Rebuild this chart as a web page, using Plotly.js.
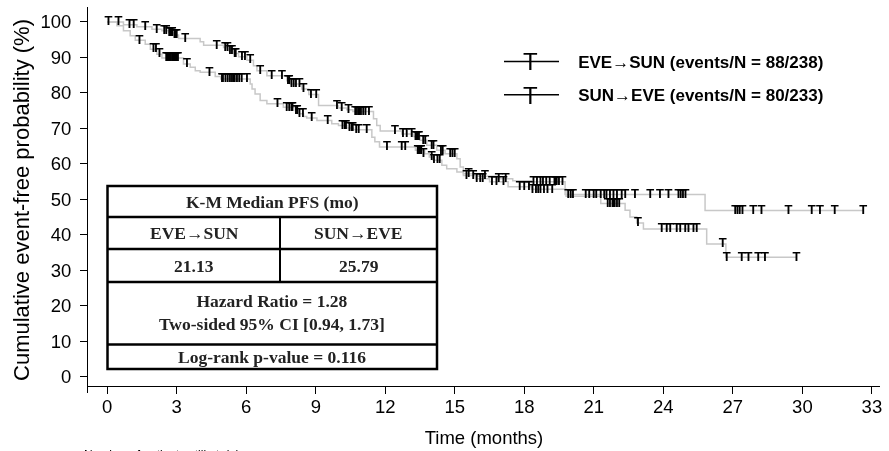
<!DOCTYPE html>
<html><head><meta charset="utf-8">
<script src="https://cdn.plot.ly/plotly-3.0.1.min.js"></script>
<style>html,body{margin:0;padding:0;background:#fff;}#chart{width:889px;height:451px;filter:grayscale(1);}</style>
</head><body><div id="chart"></div>
<script>
// ---------- data ----------
const xTicks = [0, 3, 6, 9, 12, 15, 18, 21, 24, 27, 30, 33];
const yTicks = [0, 10, 20, 30, 40, 50, 60, 70, 80, 90, 100];

const seriesNames = ['EVE\u2192SUN (events/N = 88/238)', 'SUN\u2192EVE (events/N = 80/233)'];

// EVE->SUN Kaplan-Meier step curve (months, %)
const eveSunTime = [0, 0.42, 0.70, 0.99, 1.21, 1.64, 1.86, 2.14, 2.36, 3.29, 3.58, 3.80, 4.01, 4.66, 4.90, 6.17, 6.25, 6.38, 6.60, 6.89, 7.60, 8.11, 8.25, 8.47, 8.61, 9.05, 9.69, 9.98, 10.34, 10.63, 11.42, 11.55, 11.75, 13.30, 13.70, 13.90, 14.07, 14.44, 14.65, 15.09, 15.37, 15.90, 16.50, 17.30, 18.30, 19.80, 21.30, 22.35, 22.56, 22.85, 23.14, 25.87, 26.70, 29.75];
const eveSunSurv = [100, 98.9, 97.5, 96.1, 94.8, 93.7, 92.3, 90.9, 89.8, 88.1, 87.2, 86.2, 85.8, 84.6, 83.9, 82.5, 81.1, 79.7, 77.8, 76.9, 75.9, 75.0, 74.1, 73.3, 72.9, 72.2, 71.3, 70.8, 70.1, 69.6, 67.5, 66.2, 64.7, 63.8, 62.8, 61.9, 61.0, 59.6, 58.6, 57.7, 56.7, 55.8, 54.9, 53.5, 52.8, 50.8, 48.8, 46.9, 45.0, 43.3, 41.6, 37.4, 33.6, 33.6];
const eveSunCensorTime = [1.39, 2.0, 2.1, 2.25, 2.55, 2.6, 2.65, 2.7, 2.75, 2.8, 2.85, 2.9, 2.95, 3.0, 3.05, 3.44, 4.41, 4.95, 5.0, 5.1, 5.2, 5.3, 5.38, 5.45, 5.5, 5.6, 5.7, 5.8, 6.03, 7.35, 7.75, 7.85, 7.95, 8.0, 8.15, 8.2, 8.3, 8.45, 8.83, 9.52, 10.15, 10.25, 10.3, 10.45, 10.55, 10.6, 10.75, 10.85, 11.2, 12.07, 12.71, 12.86, 13.4, 13.45, 13.5, 13.55, 13.65, 14.0, 14.1, 14.25, 14.35, 15.5, 15.8, 15.95, 16.1, 16.2, 16.6, 16.8, 17.1, 17.8, 18.0, 18.2, 18.35, 18.5, 18.6, 18.7, 18.85, 19.0, 19.2, 21.6, 21.7, 21.8, 21.85, 21.9, 22.0, 22.1, 22.9, 23.93, 24.15, 24.3, 24.58, 24.73, 24.94, 25.08, 25.3, 25.44, 26.56, 26.73, 27.38, 27.67, 28.1, 28.39, 29.75];
const eveSunCensorSurv = [94.8, 92.3, 92.3, 90.9, 89.8, 89.8, 89.8, 89.8, 89.8, 89.8, 89.8, 89.8, 89.8, 89.8, 89.8, 88.1, 85.8, 83.9, 83.9, 83.9, 83.9, 83.9, 83.9, 83.9, 83.9, 83.9, 83.9, 83.9, 83.9, 76.9, 75.9, 75.9, 75.9, 75.9, 75.0, 75.0, 74.1, 74.1, 72.9, 72.2, 70.8, 70.8, 70.8, 70.1, 70.1, 70.1, 69.6, 69.6, 69.6, 64.7, 64.7, 64.7, 63.8, 63.8, 63.8, 63.8, 62.8, 61.9, 61.0, 61.0, 61.0, 56.7, 56.7, 55.8, 55.8, 55.8, 54.9, 54.9, 54.9, 53.5, 53.5, 53.5, 52.8, 52.8, 52.8, 52.8, 52.8, 52.8, 52.8, 48.8, 48.8, 48.8, 48.8, 48.8, 48.8, 48.8, 43.3, 41.6, 41.6, 41.6, 41.6, 41.6, 41.6, 41.6, 41.6, 41.6, 37.4, 33.6, 33.6, 33.6, 33.6, 33.6, 33.6];

// SUN->EVE Kaplan-Meier step curve (months, %)
const sunEveTime = [0, 0.70, 1.28, 1.93, 2.36, 2.65, 2.86, 3.08, 4.01, 4.16, 5.02, 5.24, 5.45, 5.67, 6.03, 6.31, 6.46, 6.89, 7.75, 7.90, 8.40, 8.70, 9.12, 9.98, 10.34, 10.60, 11.49, 11.63, 11.78, 12.71, 13.21, 13.50, 13.79, 14.22, 14.58, 15.09, 15.23, 15.37, 16.00, 16.80, 17.50, 18.30, 19.76, 25.80, 32.65];
const sunEveSurv = [100, 99.2, 98.6, 97.9, 97.5, 97.0, 96.3, 95.3, 94.4, 93.4, 92.8, 91.9, 91.1, 90.2, 89.2, 87.6, 86.2, 84.8, 83.4, 82.5, 81.1, 79.5, 76.4, 75.7, 75.2, 74.7, 72.7, 70.8, 69.2, 68.4, 67.7, 66.6, 65.2, 63.8, 62.8, 61.4, 59.1, 57.2, 56.5, 55.8, 55.2, 54.9, 51.3, 46.8, 46.8];
const sunEveCensorTime = [0.05, 0.49, 0.96, 1.14, 1.64, 2.14, 2.46, 2.55, 2.68, 2.72, 2.76, 2.8, 2.9, 2.95, 3.0, 3.37, 4.73, 5.09, 5.19, 5.3, 5.38, 5.5, 5.55, 5.81, 5.95, 6.17, 6.6, 7.1, 7.54, 7.8, 7.85, 7.95, 8.05, 8.15, 8.3, 8.47, 8.79, 9.02, 9.91, 10.12, 10.41, 10.7, 10.78, 10.85, 10.9, 10.95, 11.05, 11.15, 11.3, 12.42, 12.76, 12.93, 13.14, 13.3, 13.35, 13.4, 13.45, 13.64, 13.72, 14.0, 14.08, 14.4, 14.48, 14.8, 14.9, 15.0, 15.6, 16.3, 16.9, 17.2, 18.4, 18.55, 18.7, 18.8, 18.95, 19.1, 19.3, 19.35, 19.4, 19.5, 19.65, 19.9, 20.0, 20.1, 20.65, 20.8, 21.0, 21.1, 21.3, 21.45, 21.55, 21.7, 21.85, 22.0, 22.2, 22.35, 22.78, 23.43, 23.86, 24.22, 24.65, 24.75, 24.85, 24.95, 27.1, 27.2, 27.3, 27.42, 27.88, 28.24, 29.4, 30.4, 30.76, 31.4, 32.63];
const sunEveCensorSurv = [100, 100, 99.2, 99.2, 98.6, 97.9, 97.5, 97.5, 97.0, 97.0, 97.0, 97.0, 96.3, 96.3, 96.3, 95.3, 93.4, 92.8, 92.8, 91.9, 91.9, 91.1, 91.1, 90.2, 90.2, 89.2, 86.2, 84.8, 84.8, 83.4, 83.4, 82.5, 82.5, 82.5, 82.5, 81.1, 79.5, 79.5, 76.4, 75.7, 75.2, 74.7, 74.7, 74.7, 74.7, 74.7, 74.7, 74.7, 74.7, 69.2, 68.4, 68.4, 68.4, 67.7, 67.7, 67.7, 67.7, 66.6, 66.6, 65.2, 65.2, 63.8, 63.8, 62.8, 62.8, 62.8, 57.2, 56.5, 55.8, 55.8, 54.9, 54.9, 54.9, 54.9, 54.9, 54.9, 54.9, 54.9, 54.9, 54.9, 54.9, 51.3, 51.3, 51.3, 51.3, 51.3, 51.3, 51.3, 51.3, 51.3, 51.3, 51.3, 51.3, 51.3, 51.3, 51.3, 51.3, 51.3, 51.3, 51.3, 51.3, 51.3, 51.3, 51.3, 46.8, 46.8, 46.8, 46.8, 46.8, 46.8, 46.8, 46.8, 46.8, 46.8, 46.8];

// summary table texts
const tableTitle = 'K-M Median PFS (mo)';
const armLabels = ['EVE\u2192SUN', 'SUN\u2192EVE'];
const medianLabels = ['21.13', '25.79'];
const hrText = 'Hazard Ratio = 1.28<br>Two-sided 95% CI [0.94, 1.73]';
const pText = 'Log-rank p-value = 0.116';

// ---------- layout helpers (pixel -> paper) ----------
const L = 88, R = 880, T = 7, B = 393;
const px = x => (x - L) / (R - L);
const py = y => (B - y) / (B - T);

const curveColor = '#c8c8c8';
const sans = 'Liberation Sans, Arial, sans-serif';
const serif = 'Liberation Serif, Times New Roman, serif';
const pad = '\u00a0\u00a0\u00a0';

function curve(t, s) {
  return {x: t, y: s, mode: 'lines', line: {shape: 'hv', color: curveColor, width: 1.5},
          showlegend: false, hoverinfo: 'skip'};
}
function censors(t, s) {
  return {x: t, y: s, mode: 'text', text: t.map(() => 'T'), textposition: 'middle center',
          textfont: {family: sans, size: 13, color: '#000', weight: 'bold'}, showlegend: false, hoverinfo: 'skip'};
}
function legendEntry(name, g) {
  return {x: [null], y: [null], mode: 'lines', name: '<b>' + pad + name + '</b>', legendgroup: g,
          line: {color: '#000', width: 1.5}, showlegend: true};
}

const data = [
  curve(eveSunTime, eveSunSurv),
  curve(sunEveTime, sunEveSurv),
  censors(eveSunCensorTime, eveSunCensorSurv),
  censors(sunEveCensorTime, sunEveCensorSurv),
  legendEntry(seriesNames[0], 'a'),
  legendEntry(seriesNames[1], 'b')
];

// table geometry (pixels)
const tL = 107.5, tR = 437, tTop = 186, tBot = 369, tMid = 280;
const rows = [217, 249, 282, 344.5];
const shapes = [
  {type: 'rect', xref: 'paper', yref: 'paper', x0: px(tL), x1: px(tR), y0: py(tBot), y1: py(tTop),
   line: {color: '#000', width: 2.5}, fillcolor: '#fff', layer: 'above'}
];
rows.forEach(r => shapes.push({type: 'line', xref: 'paper', yref: 'paper', x0: px(tL), x1: px(tR),
  y0: py(r), y1: py(r), line: {color: '#000', width: 2.5}, layer: 'above'}));
shapes.push({type: 'line', xref: 'paper', yref: 'paper', x0: px(tMid), x1: px(tMid),
  y0: py(rows[0]), y1: py(rows[2]), line: {color: '#000', width: 2}, layer: 'above'});

function tableText(text, x, y) {
  return {text: '<b>' + text + '</b>', xref: 'paper', yref: 'paper', x: px(x), y: py(y),
          xanchor: 'center', yanchor: 'middle', showarrow: false,
          font: {family: serif, size: 17.5, color: '#222'}};
}
const annotations = [
  tableText(tableTitle, 272, 201.5),
  tableText(armLabels[0], 194, 233),
  tableText(armLabels[1], 358.5, 233),
  tableText(medianLabels[0], 194, 265.5),
  tableText(medianLabels[1], 358.5, 265.5),
  tableText(hrText, 272, 312),
  tableText(pText, 272, 357),
  // legend censor glyphs
  {text: 'T', xref: 'paper', yref: 'paper', x: px(530), y: py(62), xanchor: 'center', yanchor: 'middle',
   showarrow: false, font: {family: sans, size: 24, color: '#000'}},
  {text: 'T', xref: 'paper', yref: 'paper', x: px(530), y: py(95), xanchor: 'center', yanchor: 'middle',
   showarrow: false, font: {family: sans, size: 24, color: '#000'}},
  {text: 'Number of patients still at risk', xref: 'paper', yref: 'paper', x: px(82), y: py(446),
   xanchor: 'left', yanchor: 'top', showarrow: false, font: {family: sans, size: 12, color: '#000'}}
];

const layout = {
  width: 889, height: 451,
  margin: {l: L, r: 889 - R, t: T, b: 451 - B},
  paper_bgcolor: '#fff', plot_bgcolor: '#fff',
  font: {family: sans, color: '#000'},
  showlegend: true,
  legend: {x: px(499), y: py(44), xanchor: 'left', yanchor: 'top', bgcolor: 'rgba(0,0,0,0)',
           itemwidth: 55, tracegroupgap: 8, font: {family: sans, size: 17, color: '#000'}},
  xaxis: {range: [-0.83, 33.35], tickvals: xTicks, ticktext: xTicks.map(String),
          ticks: 'outside', ticklen: 7, tickwidth: 1, tickcolor: '#000',
          showline: true, linecolor: '#000', linewidth: 1, showgrid: false, zeroline: false,
          anchor: 'free', position: py(386), ticklabelstandoff: -3,
          tickfont: {family: sans, size: 18.5, color: '#000'},
          title: {text: 'Time (months)', font: {family: sans, size: 18.5, color: '#000'}, standoff: 14}},
  yaxis: {range: [-4.65, 104.2], tickvals: yTicks, ticktext: yTicks.map(String),
          ticks: 'outside', ticklen: 7, tickwidth: 1, tickcolor: '#000',
          showline: true, linecolor: '#000', linewidth: 1, showgrid: false, zeroline: false,
          ticklabelstandoff: 5,
          tickfont: {family: sans, size: 18.5, color: '#000'},
          title: {text: 'Cumulative event-free probability (%)', font: {family: sans, size: 22, color: '#000'}, standoff: 4}},
  shapes: shapes,
  annotations: annotations
};

Plotly.newPlot('chart', data, layout, {staticPlot: true, displayModeBar: false});
</script></body></html>
